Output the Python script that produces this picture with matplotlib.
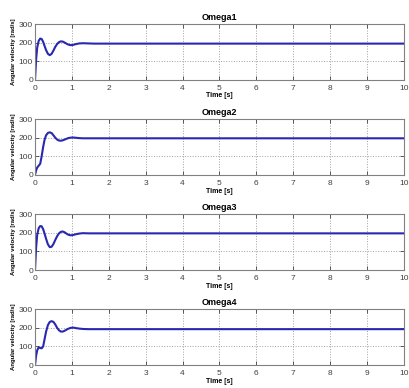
import matplotlib.pyplot as plt

plt.rcParams['font.family'] = ['Liberation Sans', 'DejaVu Sans']

# time samples (s)
t = [0, 0.03, 0.06, 0.1, 0.14, 0.18, 0.22, 0.26, 0.3, 0.35, 0.4, 0.45, 0.5, 0.55, 0.6,
     0.65, 0.7, 0.75, 0.8, 0.85, 0.9, 0.95, 1.0, 1.05, 1.1, 1.2, 1.3, 1.45, 1.6, 10]

omega1 = [0, 110, 175, 210, 222, 220, 205, 182, 160, 140, 133, 140, 158, 178, 193,
          203, 207, 206, 201, 195, 190, 187, 187, 189, 192, 196, 197, 196, 195, 195]
omega2 = [0, 25, 40, 50, 60, 100, 150, 190, 213, 226, 229, 225, 213, 200, 190,
          185, 184, 186, 190, 194, 198, 200, 201, 201, 200, 198, 197, 197, 197, 197]
omega3 = [0, 120, 190, 225, 236, 235, 220, 195, 168, 138, 123, 125, 140, 162, 182,
          197, 205, 207, 203, 196, 190, 187, 187, 189, 192, 196, 198, 197, 197, 197]
omega4 = [0, 50, 80, 95, 92, 90, 100, 140, 180, 215, 232, 236, 232, 218, 200,
          187, 180, 180, 184, 190, 195, 199, 201, 201, 199, 196, 194, 193, 193, 193]

titles = ['Omega1', 'Omega2', 'Omega3', 'Omega4']
series = [omega1, omega2, omega3, omega4]
xticks = list(range(0, 11))
yticks = [0, 100, 200, 300]

fig = plt.figure(figsize=(4.09, 3.88), dpi=100)
bottoms = [0.794, 0.549, 0.304, 0.059]

for b, name, y in zip(bottoms, titles, series):
    ax = fig.add_axes([0.0856, b, 0.902, 0.144])
    ax.plot(t, y, color='#2828b0', lw=1.5)
    ax.set_xlim(0, 10)
    ax.set_ylim(0, 300)
    ax.set_xticks(xticks)
    ax.set_yticks(yticks)
    ax.grid(True, linestyle=':', color='#a0a0a0', lw=0.7)
    ax.tick_params(direction='in', labelsize=6, length=3, width=0.6,
                   colors='#404040', pad=1.5, top=True, right=True)
    ax.tick_params(axis='x', pad=3.5)
    for s in ax.spines.values():
        s.set_color('#808080')
        s.set_linewidth(0.8)
    ax.set_title(name, fontsize=6.5, fontweight='bold', pad=3)
    ax.set_xlabel('Time [s]', fontsize=5, fontweight='bold', labelpad=0.5)
    ax.set_ylabel('Angular velocity [rad/s]', fontsize=4.3, fontweight='bold', labelpad=2)

fig.savefig('out.png', dpi=100)
